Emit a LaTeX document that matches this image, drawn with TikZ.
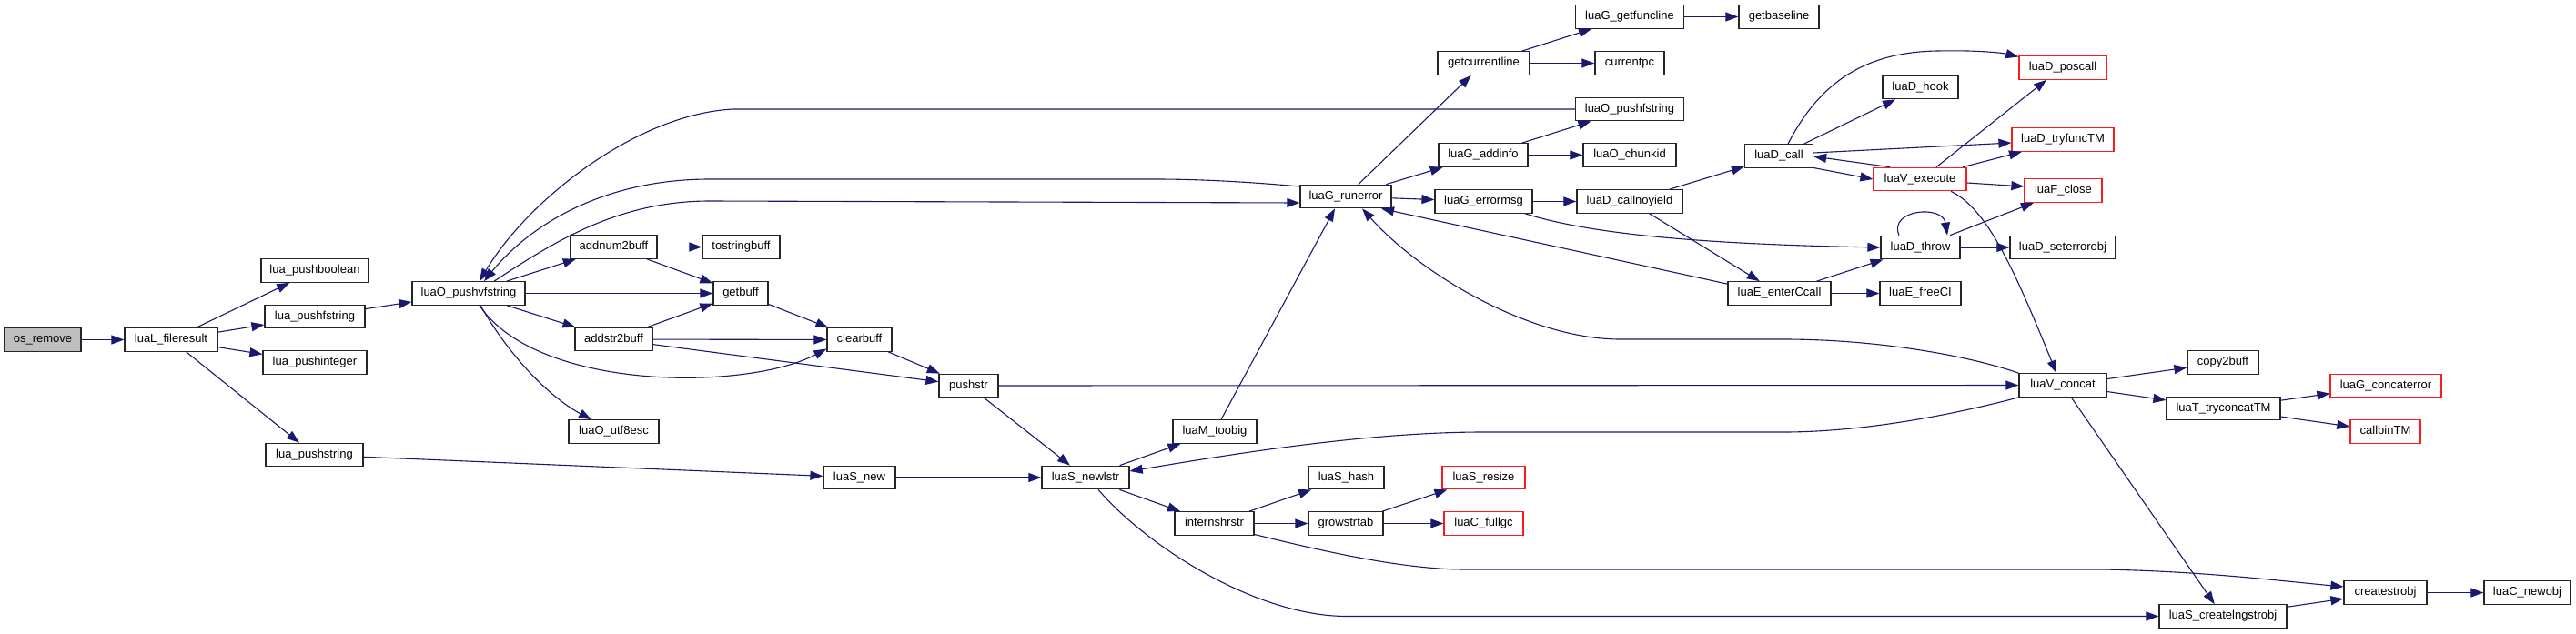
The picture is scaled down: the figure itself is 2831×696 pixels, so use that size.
\documentclass[tikz,border=0pt]{standalone}
\usepackage{fontspec}
\setmainfont{Liberation Sans}
\usetikzlibrary{arrows.meta}
\definecolor{edgecol}{HTML}{191970}
\definecolor{graybox}{HTML}{BFBFBF}
\definecolor{redline}{HTML}{FF1A1A}
\begin{document}
\begin{tikzpicture}[x=1pt,y=-1pt,
  fnode/.style={draw=black!85, line width=1.2pt, fill=white, inner sep=0pt,
    minimum height=25.5pt, text height=9.6pt, text depth=2.8pt,
    font=\fontsize{13}{15}\selectfont},
  rnode/.style={fnode, draw=redline},
  edge/.style={draw=edgecol, line width=1.1pt, -{Triangle[length=14pt,width=10pt]}}]
\fill[white] (0,0) rectangle (2831,696);
\useasboundingbox (0,0) rectangle (2831,696);
% nodes
\node[fnode, minimum width=84pt, fill=graybox] (osremove) at (47,373.5) {os\_remove};
\node[fnode, minimum width=102pt] (fileresult) at (188,373.5) {luaL\_fileresult};
\node[fnode, minimum width=118pt] (pushboolean) at (346,297.5) {lua\_pushboolean};
\node[fnode, minimum width=110pt] (pushfstring) at (346,348) {lua\_pushfstring};
\node[fnode, minimum width=114pt] (pushinteger) at (346,398.5) {lua\_pushinteger};
\node[fnode, minimum width=107pt] (pushstring) at (345.5,500) {lua\_pushstring};
\node[fnode, minimum width=124pt] (pushvf) at (515,322.5) {luaO\_pushvfstring};
\node[fnode, minimum width=95pt] (addnum) at (674.5,271.5) {addnum2buff};
\node[fnode, minimum width=85pt] (tostringbuff) at (814.5,271.5) {tostringbuff};
\node[fnode, minimum width=60pt] (getbuff) at (814,322.5) {getbuff};
\node[fnode, minimum width=85pt] (addstr) at (674.5,373) {addstr2buff};
\node[fnode, minimum width=71pt] (clearbuff) at (944.5,373.5) {clearbuff};
\node[fnode, minimum width=99pt] (utf8esc) at (674.5,474.5) {luaO\_utf8esc};
\node[fnode, minimum width=65pt] (pushstr) at (1064.5,424) {pushstr};
\node[fnode, minimum width=79pt] (luaSnew) at (944.5,525) {luaS\_new};
\node[fnode, minimum width=96pt] (newlstr) at (1193,525) {luaS\_newlstr};
\node[fnode, minimum width=92pt] (toobig) at (1335,474.5) {luaM\_toobig};
\node[fnode, minimum width=87pt] (internshrstr) at (1334.5,575.5) {internshrstr};
\node[fnode, minimum width=83pt] (luaShash) at (1479.5,525) {luaS\_hash};
\node[fnode, minimum width=82pt] (growstrtab) at (1479,575.5) {growstrtab};
\node[rnode, minimum width=91pt] (luaSresize) at (1630.5,525) {luaS\_resize};
\node[rnode, minimum width=87pt] (fullgc) at (1630.5,575.5) {luaC\_fullgc};
\node[fnode, minimum width=100pt] (runerror) at (1479,216) {luaG\_runerror};
\node[fnode, minimum width=101pt] (getcurrentline) at (1630.5,69.5) {getcurrentline};
\node[fnode, minimum width=98pt] (addinfo) at (1630,170.5) {luaG\_addinfo};
\node[fnode, minimum width=107pt] (errormsg) at (1630.5,221.5) {luaG\_errormsg};
\node[fnode, minimum width=119pt] (getfuncline) at (1791,18.5) {luaG\_getfuncline};
\node[fnode, minimum width=76pt] (currentpc) at (1791,69.5) {currentpc};
\node[fnode, minimum width=119pt] (luaOpushf) at (1791,120) {luaO\_pushfstring};
\node[fnode, minimum width=102pt] (chunkid) at (1791,170.5) {luaO\_chunkid};
\node[fnode, minimum width=116pt] (callnoyield) at (1791,221.5) {luaD\_callnoyield};
\node[fnode, minimum width=88pt] (getbaseline) at (1955,18.5) {getbaseline};
\node[fnode, minimum width=75pt] (luaDcall) at (1955,171.5) {luaD\_call};
\node[fnode, minimum width=113pt] (enterCcall) at (1955.5,322.5) {luaE\_enterCcall};
\node[fnode, minimum width=83pt] (hook) at (2110.5,96) {luaD\_hook};
\node[rnode, minimum width=102pt] (execute) at (2110,197) {luaV\_execute};
\node[fnode, minimum width=87pt] (throw) at (2110.5,272) {luaD\_throw};
\node[fnode, minimum width=89pt] (freeCI) at (2110.5,322.5) {luaE\_freeCI};
\node[rnode, minimum width=96pt] (poscall) at (2267,74.5) {luaD\_poscall};
\node[rnode, minimum width=112pt] (tryfunc) at (2267,153.5) {luaD\_tryfuncTM};
\node[rnode, minimum width=85pt] (luaFclose) at (2267.5,209.5) {luaF\_close};
\node[fnode, minimum width=116pt] (seterrorobj) at (2267,272) {luaD\_seterrorobj};
\node[fnode, minimum width=96pt] (luaVconcat) at (2267,423.5) {luaV\_concat};
\node[fnode, minimum width=140pt] (lngstr) at (2443,677.5) {luaS\_createlngstrobj};
\node[fnode, minimum width=78pt] (copy2buff) at (2443,398.5) {copy2buff};
\node[fnode, minimum width=125pt] (tryconcat) at (2443.5,449) {luaT\_tryconcatTM};
\node[rnode, minimum width=122pt] (concaterror) at (2622,424) {luaG\_concaterror};
\node[rnode, minimum width=77pt] (callbinTM) at (2621.5,474.5) {callbinTM};
\node[fnode, minimum width=91pt] (createstrobj) at (2621.5,651.5) {createstrobj};
\node[fnode, minimum width=95pt] (newobj) at (2777.5,651.5) {luaC\_newobj};
% edges
\draw[edge] (osremove) -- (fileresult);
\draw[edge] (fileresult) -- (pushboolean);
\draw[edge] (fileresult) -- (pushfstring);
\draw[edge] (fileresult) -- (pushinteger);
\draw[edge] (fileresult) -- (pushstring);
\draw[edge] (pushfstring) -- (pushvf);
\draw[edge] (pushstring) -- (luaSnew);
\draw[edge] ([xshift=12pt]pushvf.south) .. controls (590,430) and (820,430) .. ([yshift=-10pt]clearbuff.west);
\draw[edge] ([xshift=13pt]pushvf.south) .. controls (565,400) and (610,440) .. ([xshift=-24.5pt]utf8esc.north);
\draw[edge] (pushvf) -- (addnum);
\draw[edge] (pushvf) -- (getbuff);
\draw[edge] (pushvf) -- (addstr);
\draw[edge] ([xshift=28pt]pushvf.north) .. controls (610,265) and (680,221) .. (780,221) -- ([yshift=-7pt]runerror.west);
\draw[edge] (luaOpushf.west) -- (806,120) .. controls (700,125) and (580,220) .. ([xshift=12pt]pushvf.north);
\draw[edge] ([yshift=11pt]runerror.west) .. controls (1350,198) and (1300,197) .. (1269,197) -- (780,197) .. controls (660,197) and (580,250) .. ([xshift=17pt]pushvf.north);
\draw[edge] (addnum) -- (tostringbuff);
\draw[edge] (addnum) -- (getbuff);
\draw[edge] (addstr) -- (getbuff);
\draw[edge] (addstr) -- (clearbuff);
\draw[edge] (addstr) -- (pushstr);
\draw[edge] (getbuff) -- (clearbuff);
\draw[edge] (clearbuff) -- (pushstr);
\draw[edge] (pushstr) -- (luaVconcat);
\draw[edge] (pushstr) -- (newlstr);
\draw[edge] (luaSnew) -- (newlstr);
\draw[edge] (newlstr) -- (toobig);
\draw[edge] (newlstr) -- (internshrstr);
\draw[edge] ([xshift=14pt]newlstr.south) .. controls (1260,600) and (1380,677.5) .. (1480,677.5) -- (lngstr.west);
\draw[edge] ([xshift=7pt]toobig.north) -- ([xshift=-12pt]runerror.south);
\draw[edge] (internshrstr) -- (luaShash);
\draw[edge] (internshrstr) -- (growstrtab);
\draw[edge] ([yshift=-12pt]internshrstr.east) .. controls (1450,605) and (1540,626) .. (1610,626) -- (2310,626) .. controls (2420,628) and (2500,638) .. ([yshift=6.5pt]createstrobj.west);
\draw[edge] (growstrtab) -- (luaSresize);
\draw[edge] (growstrtab) -- (fullgc);
\draw[edge] (lngstr) -- (createstrobj);
\draw[edge] (createstrobj) -- (newobj);
\draw[edge] (luaVconcat) -- (copy2buff);
\draw[edge] (luaVconcat) -- (tryconcat);
\draw[edge] (tryconcat) -- (concaterror);
\draw[edge] (tryconcat) -- (callbinTM);
\draw[edge] (luaVconcat) -- (lngstr);
\draw[edge] (luaVconcat.north west) .. controls (2160,390) and (2060,373) .. (1960,373) -- (1781,373) .. controls (1680,373) and (1560,300) .. ([xshift=18pt]runerror.south);
\draw[edge] (luaVconcat.south west) .. controls (2150,455) and (2050,475) .. (1960,475) -- (1630,475) .. controls (1500,475) and (1350,500) .. ([yshift=7pt]newlstr.east);
\draw[edge] (runerror) -- (getcurrentline);
\draw[edge] (runerror) -- (addinfo);
\draw[edge] (runerror) -- (errormsg);
\draw[edge] (addinfo) -- (luaOpushf);
\draw[edge] (addinfo) -- (chunkid);
\draw[edge] (getcurrentline) -- (getfuncline);
\draw[edge] (getcurrentline) -- (currentpc);
\draw[edge] (getfuncline) -- (getbaseline);
\draw[edge] (errormsg) -- (callnoyield);
\draw[edge] ([xshift=45.5pt]errormsg.south) .. controls (1740,255) and (1850,268) .. (throw.west);
\draw[edge] (callnoyield) -- (luaDcall);
\draw[edge] (callnoyield) -- (enterCcall);
\draw[edge] ([yshift=-3pt]enterCcall.north west) -- ([xshift=39pt]runerror.south);
\draw[edge] (enterCcall) -- (throw);
\draw[edge] (enterCcall) -- (freeCI);
\draw[edge] ([xshift=10pt]luaDcall.north) .. controls (1995,100) and (2040,57) .. (2130,56) .. controls (2170,55) and (2200,58) .. ([yshift=12pt]poscall.west);
\draw[edge] (luaDcall) -- (hook);
\draw[edge] ([yshift=3.5pt]luaDcall.east) -- ([yshift=-3.5pt]tryfunc.west);
\draw[edge] ([yshift=-13pt]luaDcall.east) -- (execute.west);
\draw[edge] ([xshift=-33pt]execute.north) -- ([yshift=-0.5pt]luaDcall.east);
\draw[edge] ([xshift=18pt]execute.north) -- ([xshift=-18pt]poscall.south);
\draw[edge] ([xshift=47pt]execute.north) -- ([xshift=-45pt]tryfunc.south);
\draw[edge] ([yshift=-4pt]execute.east) -- ([yshift=4.5pt]luaFclose.west);
\draw[edge] ([xshift=34pt]execute.south) .. controls (2185,230) and (2215,300) .. ([xshift=-7pt]luaVconcat.north);
\draw[edge] ([xshift=-23.5pt]throw.north) .. controls (2075,230) and (2135,225) .. ([xshift=29.5pt]throw.north);
\draw[edge] ([xshift=32.5pt]throw.north) -- ([xshift=-32.5pt]luaFclose.south);
\draw[edge] (throw) -- (seterrorobj);
\end{tikzpicture}
\end{document}
